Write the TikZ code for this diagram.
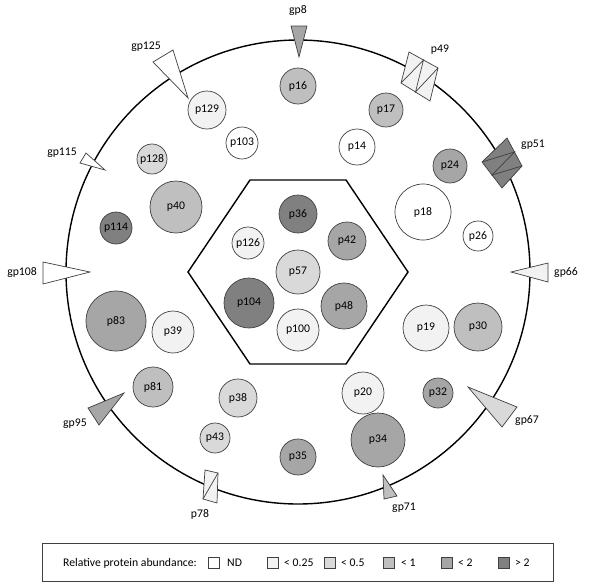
\documentclass[tikz,border=0pt]{standalone}
\usepackage{fontspec}
\setmainfont{Carlito}

\definecolor{ndc}{HTML}{FFFFFF}
\definecolor{qa}{HTML}{F2F2F2}
\definecolor{qb}{HTML}{D9D9D9}
\definecolor{qc}{HTML}{BFBFBF}
\definecolor{qd}{HTML}{A6A6A6}
\definecolor{qe}{HTML}{808080}
\definecolor{rim}{HTML}{404040}

\tikzset{
  prot/.style={circle,draw=rim,line width=0.6pt,inner sep=0pt,minimum size=#1*0.6mm,
    font=\fontsize{10}{12}\selectfont},
  memb/.style={draw=rim,line width=0.6pt},
  lbl/.style={font=\fontsize{10}{12}\selectfont,inner sep=0pt},
  keybox/.style={draw=rim,line width=0.5pt,minimum size=3.3mm,inner sep=0pt},
  keytxt/.style={font=\fontsize{10}{12}\selectfont,inner sep=0pt,anchor=west}
}

\begin{document}
\begin{tikzpicture}[x=0.3mm,y=-0.3mm]
  \useasboundingbox (0,0) rectangle (600,585);

	% cell wall and core
	\draw[line width=1.2pt] (298,272) circle (232);
	\draw[line width=1.2pt] (188,272) -- (250,180) -- (346,180) -- (408,272) -- (346,364) -- (250,364) -- cycle;

 % proteins inside
 \node[prot=18,fill=qc] (p16) at (298,86) {p16};
 \node[prot=19,fill=qa] (p129) at (207,110) {p129};
 \node[prot=16,fill=ndc] (p103) at (242,143) {p103};
 \node[prot=15,fill=qb] (p128) at (152,159) {p128};
 \node[prot=26,fill=qc] (p40) at (176,207) {p40};
 \node[prot=16,fill=qe] (p114) at (116,228) {p114};
 \node[prot=17,fill=qc] (p17) at (386,110) {p17};
 \node[prot=18,fill=ndc] (p14) at (357,147) {p14};
 \node[prot=17,fill=qd] (p24) at (450,166) {p24};
 \node[prot=28,fill=ndc] (p18) at (423,212) {p18};
 \node[prot=15,fill=ndc] (p26) at (478,236) {p26};
 \node[prot=19,fill=qe] (p36) at (298,214) {p36};
 \node[prot=16,fill=qa] (p126) at (248,243) {p126};
 \node[prot=19,fill=qd] (p42) at (347,241) {p42};
 \node[prot=22,fill=qb] (p57) at (298,272) {p57};
 \node[prot=25,fill=qe] (p104) at (249,303) {p104};
 \node[prot=23,fill=qd] (p48) at (344,306) {p48};
 \node[prot=21,fill=qa] (p100) at (298,330) {p100};
 \node[prot=30,fill=qd] (p83) at (116,321) {p83};
 \node[prot=21,fill=qa] (p39) at (173,332) {p39};
 \node[prot=20,fill=qc] (p81) at (153,387) {p81};
 \node[prot=19,fill=qb] (p38) at (238,398) {p38};
 \node[prot=15,fill=qb] (p43) at (215,438) {p43};
 \node[prot=18,fill=qd] (p35) at (298,457) {p35};
 \node[prot=23,fill=qa] (p19) at (426,328) {p19};
 \node[prot=24,fill=qc] (p30) at (478,327) {p30};
 \node[prot=21,fill=qa] (p20) at (363,393) {p20};
 \node[prot=15,fill=qd] (p32) at (438,393) {p32};
 \node[prot=27,fill=qd] (p34) at (378,440) {p34};

   % membrane spikes
   \draw[memb,fill=qd] (291,26) -- (307,26) -- (299,57) -- cycle;
   \node[lbl] (gp8) at (298,11) {gp8};
   \draw[memb,fill=ndc] (153,62) -- (173,50) -- (188,98) -- cycle;
   \node[lbl] (gp125) at (146,47) {gp125};
   \draw[memb,fill=ndc] (80,163) -- (86,153) -- (105,170) -- cycle;
   \node[lbl] (gp115) at (62,153) {gp115};
   \draw[memb,fill=ndc] (43,262) -- (43,284) -- (90,272) -- cycle;
   \node[lbl] (gp108) at (22,272) {gp108};
   \draw[memb,fill=qd] (88,408) -- (99,425) -- (124,393) -- cycle;
   \node[lbl] (gp95) at (75,424) {gp95};
   \draw[memb,fill=qc] (383,475) -- (384,499) -- (397,496) -- cycle;
   \node[lbl] (gp71) at (404,508) {gp71};
   \draw[memb,fill=qb] (468,387) -- (517,407) -- (502,427) -- cycle;
   \node[lbl] (gp67) at (527,421) {gp67};
   \draw[memb,fill=qa] (511,272) -- (548,263) -- (548,282) -- cycle;
   \node[lbl] (gp66) at (566,273) {gp66};

   % channel blocks
   \draw[memb,fill=qa] (409,52) -- (438,68) -- (430,101) -- (401,83) -- cycle;
   \draw[memb] (401,83) -- (423.5,60) -- (415.5,92) -- (438,68);
   \node[lbl] (p49) at (440,50) {p49};
   \draw[memb,fill=qe] (482,162) -- (507,138) -- (522,166) -- (502,188) -- cycle;
   \draw[memb] (482,162) -- (514.5,152) -- (492,175) -- (522,166);
   \node[lbl] (gp51) at (533,145) {gp51};
   \draw[memb,fill=qa] (205,470) -- (218,473) -- (217,503) -- (203,499) -- cycle;
   \draw[memb] (203,499) -- (218,473);
   \node[lbl] (p78) at (200,514) {p78};

	 % key
	 \draw[draw=rim,line width=0.6pt] (42,543) rectangle (553,581);
	 \node[keytxt] (keyhead) at (63,563) {Relative protein abundance:};
	 \node[keybox,fill=ndc] (knd) at (214,563) {};
	 \node[keytxt] (tnd) at (227,563) {ND};
	 \node[keybox,fill=qa] (ka) at (273,563) {};
	 \node[keytxt] (ta) at (284,563) {< 0.25};
	 \node[keybox,fill=qb] (kb) at (330,563) {};
	 \node[keytxt] (tb) at (341,563) {< 0.5};
	 \node[keybox,fill=qc] (kc) at (389,563) {};
	 \node[keytxt] (tc) at (401,563) {< 1};
	 \node[keybox,fill=qd] (kd) at (447,563) {};
	 \node[keytxt] (td) at (458,563) {< 2};
	 \node[keybox,fill=qe] (ke) at (504,563) {};
	 \node[keytxt] (te) at (515,563) {> 2};

\end{tikzpicture}
\end{document}
